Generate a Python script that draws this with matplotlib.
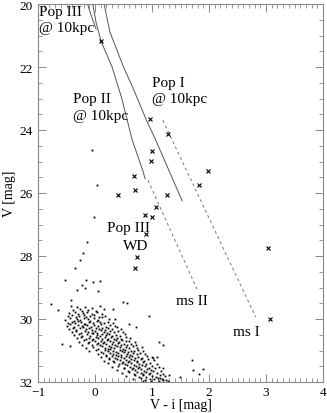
import matplotlib
matplotlib.use('Agg')
import matplotlib.pyplot as plt
from matplotlib.ticker import MultipleLocator

plt.rcParams['font.family'] = ['Liberation Serif', 'DejaVu Serif']

# model sequences (V - i, V)
pop2_x = [-0.04, 0.02, 0.11, 0.30, 0.47, 0.65, 0.84, 0.88]
pop2_y = [20.0, 20.6, 21.2, 22.0, 23.0, 24.3, 25.3, 25.55]
pop1_x = [0.16, 0.26, 0.50, 0.67, 0.91, 1.05, 1.18, 1.53]
pop1_y = [20.0, 20.88, 22.0, 22.68, 23.72, 24.26, 24.8, 26.25]
pop3_x = [-0.13, -0.08, -0.02, 0.02]
pop3_y = [20.0, 20.3, 20.6, 20.8]
ms1_x = [1.19, 2.82]
ms1_y = [23.69, 29.94]
ms2_x = [0.93, 1.79]
ms2_y = [25.6, 29.05]

# asterisks
star_x = [0.105, 0.96, 1.28, 1.0, 0.98, 1.98, 1.82, 0.68, 0.70, 0.40, 1.26,
          1.07, 0.88, 1.0, 0.89, 0.74, 0.70, 3.04, 3.07]
star_y = [21.17, 23.66, 24.13, 24.67, 24.98, 25.30, 25.74, 25.46, 25.90, 26.06,
          26.06, 26.44, 26.69, 26.75, 27.29, 28.04, 28.39, 27.76, 30.0]

# white dwarf dots
wd_x = [
    -0.05, 0.035, -0.02, -0.14, -0.21, -0.26, -0.35, -0.53, -0.16, -0.04, 0.09,
    -0.23, -0.32, -0.18, 0.05, -0.77, -0.65, -0.42, 0.32, 0.35, 0.95, 0.72, 0.6,
    -0.58, -0.44, 1.12, 1.19, 0.49, 0.57, 1.09, 1.02, 1.19, 1.70, 1.72, 1.89, 1.49, 1.82, 1.14,
    -0.42, -0.31, -0.18, -0.05, 0.08,
    -0.38, -0.27, -0.22, -0.12, 0.02, 0.15,
    -0.45, -0.35, -0.30, -0.21, -0.14, -0.06, 0.04, 0.12,
    -0.48, -0.40, -0.33, -0.28, -0.20, -0.15, -0.09, -0.02, 0.07, 0.18,
    -0.52, -0.44, -0.37, -0.32, -0.26, -0.19, -0.13, -0.08, -0.01, 0.05, 0.13, 0.24,
    -0.47, -0.41, -0.35, -0.29, -0.24, -0.17, -0.11, -0.04, 0.03, 0.09, 0.16, 0.22, 0.31,
    -0.50, -0.43, -0.36, -0.30, -0.23, -0.20, -0.14, -0.07, -0.02, 0.06, 0.11, 0.19, 0.26, 0.35,
    -0.45, -0.38, -0.33, -0.27, -0.21, -0.15, -0.10, -0.05, 0.01, 0.07, 0.12, 0.18, 0.23, 0.30, 0.38, 0.46,
    -0.40, -0.34, -0.25, -0.18, -0.12, -0.06, 0.00, 0.04, 0.10, 0.15, 0.21, 0.27, 0.33, 0.40, 0.49,
    -0.37, -0.28, -0.22, -0.14, -0.08, -0.03, 0.03, 0.08, 0.13, 0.19, 0.24, 0.29, 0.36, 0.43, 0.52,
    -0.32, -0.24, -0.16, -0.10, -0.04, 0.02, 0.06, 0.12, 0.17, 0.22, 0.28, 0.34, 0.39, 0.45, 0.55, 0.62,
    -0.28, -0.19, -0.11, -0.05, 0.00, 0.05, 0.10, 0.16, 0.21, 0.26, 0.31, 0.37, 0.42, 0.48, 0.54, 0.60, 0.70,
    -0.22, -0.13, -0.06, 0.03, 0.08, 0.14, 0.19, 0.25, 0.30, 0.35, 0.41, 0.46, 0.51, 0.57, 0.63, 0.72,
    -0.15, -0.04, 0.06, 0.12, 0.18, 0.23, 0.28, 0.33, 0.38, 0.44, 0.49, 0.55, 0.60, 0.66, 0.74, 0.82,
    -0.10, 0.02, 0.10, 0.17, 0.22, 0.27, 0.32, 0.37, 0.43, 0.48, 0.53, 0.58, 0.64, 0.69, 0.76, 0.85,
    0.05, 0.14, 0.20, 0.26, 0.31, 0.36, 0.41, 0.46, 0.51, 0.56, 0.62, 0.67, 0.73, 0.79, 0.88,
    0.10, 0.19, 0.25, 0.30, 0.35, 0.40, 0.45, 0.50, 0.55, 0.60, 0.65, 0.70, 0.76, 0.82, 0.91, 1.00,
    0.16, 0.24, 0.32, 0.38, 0.44, 0.49, 0.54, 0.59, 0.64, 0.69, 0.74, 0.80, 0.86, 0.93, 1.04,
    0.22, 0.33, 0.42, 0.48, 0.53, 0.58, 0.63, 0.68, 0.73, 0.78, 0.84, 0.90, 0.97, 1.08,
    0.30, 0.41, 0.50, 0.57, 0.62, 0.67, 0.72, 0.77, 0.82, 0.88, 0.94, 1.00, 1.12,
    0.38, 0.50, 0.58, 0.65, 0.71, 0.76, 0.81, 0.86, 0.92, 0.98, 1.05, 1.16,
    0.47, 0.60, 0.68, 0.74, 0.80, 0.85, 0.90, 0.96, 1.02, 1.09, 1.20,
    0.55, 0.70, 0.78, 0.84, 0.90, 0.95, 1.00, 1.07, 1.14, 1.22, 1.30,
    0.66, 0.80, 0.88, 0.97, 1.04, 1.10, 1.17, 1.25,
    0.85, 0.99, 1.12, 1.20, 1.28,
]
wd_y = [
    24.64, 25.74, 26.75, 27.54, 27.89, 28.14, 28.39, 28.77, 28.77, 28.83, 28.80,
    28.93, 29.09, 29.02, 29.12, 29.53, 29.72, 29.40, 29.68, 30.00, 29.90, 30.25, 30.15,
    30.79, 30.85, 30.73, 30.82, 29.45, 29.50, 31.20, 31.25, 31.55, 31.29, 31.61, 31.58, 31.83, 31.75, 31.88,
    29.58, 29.63, 29.61, 29.66, 29.60,
    29.72, 29.68, 29.75, 29.70, 29.74, 29.69,
    29.82, 29.78, 29.85, 29.80, 29.77, 29.84, 29.79, 29.83,
    29.92, 29.88, 29.95, 29.90, 29.87, 29.94, 29.91, 29.86, 29.93, 29.89,
    30.02, 29.97, 30.05, 29.99, 30.04, 29.96, 30.01, 30.06, 29.98, 30.03, 29.95, 30.00,
    30.12, 30.08, 30.14, 30.07, 30.11, 30.15, 30.09, 30.13, 30.06, 30.10, 30.14, 30.08, 30.12,
    30.21, 30.17, 30.24, 30.19, 30.23, 30.16, 30.20, 30.25, 30.18, 30.22, 30.17, 30.24, 30.20, 30.23,
    30.31, 30.27, 30.34, 30.29, 30.26, 30.33, 30.30, 30.35, 30.28, 30.32, 30.27, 30.34, 30.29, 30.31, 30.26, 30.33,
    30.42, 30.38, 30.44, 30.37, 30.41, 30.45, 30.39, 30.43, 30.36, 30.40, 30.44, 30.38, 30.42, 30.37, 30.41,
    30.51, 30.47, 30.54, 30.49, 30.53, 30.46, 30.50, 30.55, 30.48, 30.52, 30.47, 30.54, 30.50, 30.53, 30.48,
    30.61, 30.57, 30.64, 30.59, 30.63, 30.56, 30.60, 30.65, 30.58, 30.62, 30.57, 30.64, 30.60, 30.63, 30.58, 30.61,
    30.72, 30.68, 30.74, 30.67, 30.71, 30.75, 30.69, 30.73, 30.66, 30.70, 30.74, 30.68, 30.72, 30.67, 30.71, 30.69, 30.73,
    30.81, 30.77, 30.84, 30.79, 30.83, 30.76, 30.80, 30.85, 30.78, 30.82, 30.77, 30.84, 30.80, 30.83, 30.78, 30.81,
    30.92, 30.88, 30.94, 30.87, 30.91, 30.95, 30.89, 30.93, 30.86, 30.90, 30.94, 30.88, 30.92, 30.87, 30.91, 30.89,
    31.01, 30.97, 31.04, 30.99, 31.03, 30.96, 31.00, 31.05, 30.98, 31.02, 30.97, 31.04, 31.00, 31.03, 30.98, 31.01,
    31.12, 31.08, 31.14, 31.07, 31.11, 31.15, 31.09, 31.13, 31.06, 31.10, 31.14, 31.08, 31.12, 31.07, 31.11,
    31.21, 31.17, 31.24, 31.19, 31.23, 31.16, 31.20, 31.25, 31.18, 31.22, 31.17, 31.24, 31.20, 31.23, 31.18, 31.21,
    31.32, 31.28, 31.34, 31.27, 31.31, 31.35, 31.29, 31.33, 31.26, 31.30, 31.34, 31.28, 31.32, 31.27, 31.31,
    31.41, 31.37, 31.44, 31.39, 31.43, 31.36, 31.40, 31.45, 31.38, 31.42, 31.37, 31.44, 31.40, 31.43,
    31.52, 31.48, 31.54, 31.47, 31.51, 31.55, 31.49, 31.53, 31.46, 31.50, 31.54, 31.48, 31.52,
    31.61, 31.57, 31.64, 31.59, 31.63, 31.56, 31.60, 31.65, 31.58, 31.62, 31.57, 31.64,
    31.72, 31.68, 31.74, 31.67, 31.71, 31.75, 31.69, 31.73, 31.66, 31.70, 31.74,
    31.81, 31.77, 31.84, 31.79, 31.83, 31.76, 31.80, 31.85, 31.78, 31.82, 31.79,
    31.90, 31.87, 31.93, 31.89, 31.92, 31.88, 31.91, 31.94,
    31.97, 31.96, 31.98, 31.95, 31.97,
]

fig = plt.figure(figsize=(3.27, 4.14), dpi=100)
ax = fig.add_axes([38 / 327, 31 / 414, 285 / 327, 378 / 414])

line_col = '#555555'
ax.plot(pop2_x, pop2_y, color=line_col, lw=0.7)
ax.plot(pop1_x, pop1_y, color=line_col, lw=0.7)
ax.plot(pop3_x, pop3_y, color=line_col, lw=0.7)
ax.plot(ms1_x, ms1_y, color='#777777', lw=0.7, linestyle=(0, (3, 3)))
ax.plot(ms2_x, ms2_y, color='#777777', lw=0.7, linestyle=(0, (3, 3)))

ax.plot(wd_x, wd_y, 's', color='k', ms=1.3, mew=0)
ax.plot(star_x, star_y, 'x', color='k', ms=3, mew=0.8)

fs = 11
ax.text(-0.98, 20.25, 'Pop III', fontsize=fs, va='center')
ax.text(-0.98, 20.75, '@ 10kpc', fontsize=fs, va='center')
ax.text(-0.39, 23.0, 'Pop II', fontsize=fs, va='center')
ax.text(-0.39, 23.53, '@ 10kpc', fontsize=fs, va='center')
ax.text(1.0, 22.49, 'Pop I', fontsize=fs, va='center')
ax.text(1.0, 22.99, '@ 10kpc', fontsize=fs, va='center')
ax.text(0.21, 27.1, 'Pop III', fontsize=fs, va='center')
ax.text(0.49, 27.67, 'WD', fontsize=fs, va='center')
ax.text(1.42, 29.4, 'ms II', fontsize=fs, va='center')
ax.text(2.42, 30.41, 'ms I', fontsize=fs, va='center')

ax.set_xlim(-1, 4)
ax.set_ylim(32, 20)
ax.xaxis.set_major_locator(MultipleLocator(1))
ax.xaxis.set_minor_locator(MultipleLocator(0.1))
ax.yaxis.set_major_locator(MultipleLocator(2))
ax.yaxis.set_minor_locator(MultipleLocator(0.5))
ax.tick_params(which='both', direction='in', top=True, right=True,
               color='#888888', labelsize=9.5)
ax.tick_params(which='major', length=6, width=0.7)
ax.tick_params(which='minor', length=3, width=0.6)
ax.tick_params(axis='x', which='major', pad=3)
ax.tick_params(axis='y', which='major', pad=4)
for s in ax.spines.values():
    s.set_color('#888888')
    s.set_linewidth(0.8)

ax.set_xlabel('V - i [mag]', fontsize=10, labelpad=0)
ax.set_ylabel('V [mag]', fontsize=10, labelpad=2)

plt.savefig('out.png', dpi=100)
plt.close()
